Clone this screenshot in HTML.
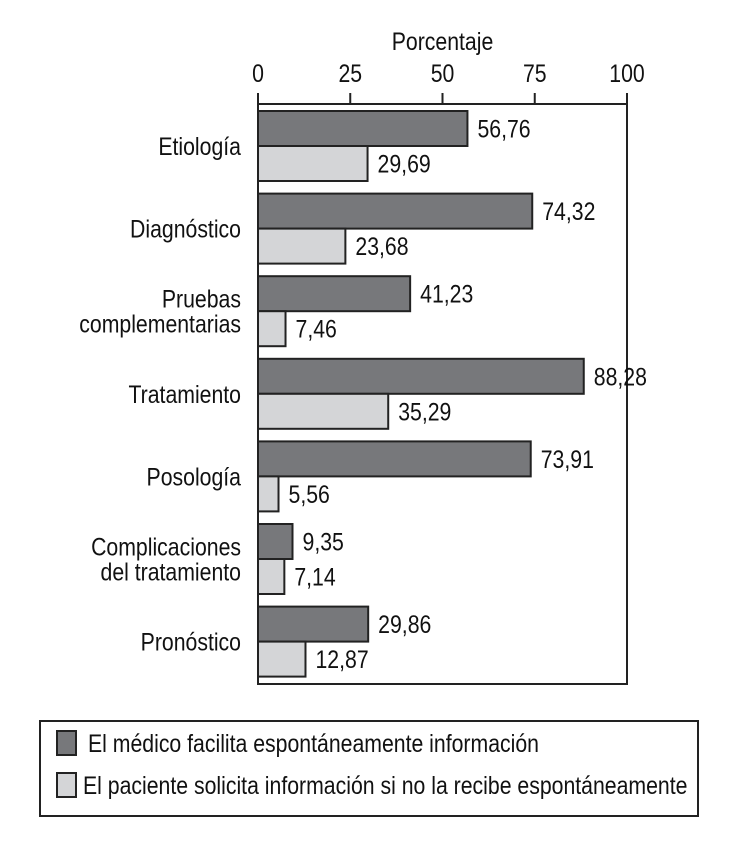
<!DOCTYPE html>
<html><head><meta charset="utf-8"><style>
body{margin:0;background:#fff;}
svg text{font-family:"Liberation Sans",sans-serif;fill:#111;font-size:25px;}
</style></head><body>
<svg id="chart" width="730" height="862" viewBox="0 0 730 862" xmlns="http://www.w3.org/2000/svg"></svg>
<script>
const categories=[["Etiología"],["Diagnóstico"],["Pruebas","complementarias"],["Tratamiento"],["Posología"],["Complicaciones","del tratamiento"],["Pronóstico"]];
const medicoValues=[56.76,74.32,41.23,88.28,73.91,9.35,29.86];
const pacienteValues=[29.69,23.68,7.46,35.29,5.56,7.14,12.87];
const tickValues=[0,25,50,75,100];
const seriesNames=["El médico facilita espontáneamente información","El paciente solicita información si no la recibe espontáneamente"];

const NS="http://www.w3.org/2000/svg";
const svg=document.getElementById('chart');
const X0=258,X1=627,Y0=104,Y1=684;
const x=v=>X0+(v/100)*(X1-X0);
const groupTop=i=>111+i*82.6;
const BH=35;
const SX=0.85;
function mk(t,a,p){const e=document.createElementNS(NS,t);for(const k in a)e.setAttribute(k,a[k]);(p||svg).appendChild(e);return e;}
function txt(str,tx,ty,anchor){const e=mk('text',{x:0,y:0,'text-anchor':anchor||'start',transform:`translate(${tx},${ty}) scale(${SX},1)`});e.textContent=str;return e;}
const fmt=v=>v.toFixed(2).replace('.',',');

let t=txt('Porcentaje',(X0+X1)/2,50,'middle');



let frame=mk('rect',{x:X0,y:Y0,width:X1-X0,height:Y1-Y0,fill:'none',stroke:'#222','stroke-width':2});



tickValues.forEach(v=>{
  const l=mk('line',{x1:x(v),x2:x(v),y1:Y0-11,y2:Y0,stroke:'#222','stroke-width':2});
  
  
  const tx=txt(String(v),x(v),82,'middle');
  
  
});

categories.forEach((c,i)=>{
  const top=groupTop(i);
  const cy=top+BH;
  const n=c.length;
  c.forEach((line,j)=>{
    const lab=txt(line,241,cy+9+(j-(n-1)/2)*25,'end');
    
    
  });
  [[medicoValues[i],'#77787b',top],[pacienteValues[i],'#d4d5d7',top+BH]].forEach(([v,col,y],k)=>{
    const r=mk('rect',{x:X0,y:y,width:x(v)-X0,height:BH,fill:col,stroke:'#222','stroke-width':2});
    
    
    const vt=txt(fmt(v),x(v)+10,y+BH/2+9);
    
    
  });
});

const lg=mk('rect',{x:40,y:721,width:658,height:95,fill:'none',stroke:'#222','stroke-width':2});


seriesNames.forEach((s,k)=>{
  const yy=k?785:743;
  const sw=mk('rect',{x:57,y:yy-12,width:19,height:24,fill:k?'#d4d5d7':'#77787b',stroke:'#222','stroke-width':2});
  
  
  const tx=txt(s,k?83:88,yy+9);
  
  
});
</script>
</body></html>
